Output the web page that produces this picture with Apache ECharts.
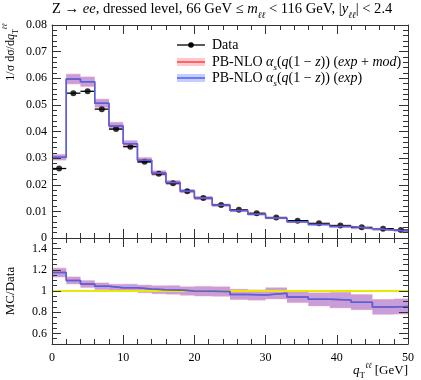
<!DOCTYPE html>
<html lang="en">

<head>
    <meta charset="UTF-8">
    <title>qT ee</title>
    <script src="https://cdn.jsdelivr.net/npm/echarts@6/dist/echarts.min.js"></script>
    <style>
        body,
        html {
            padding: 0;
            margin: 0;
        }
    </style>
</head>

<body>
    <div style="width:421px;height:380px;" id='chart'></div>
    <script>
        // bin edges in qT [GeV]
        var edges = [0, 2, 4, 6, 8, 10, 12, 14, 16, 18, 20, 22.5, 25, 27.5, 30, 33, 36, 39, 42, 45, 48, 50];
        // measured 1/sigma dsigma/dqT
        var dataVals = [0.0261, 0.0544, 0.0551, 0.0484, 0.0409, 0.0343, 0.0286, 0.0241, 0.0206, 0.0176, 0.0150,
            0.0124, 0.0106, 0.0093, 0.0077, 0.0065, 0.0055, 0.0047, 0.0040, 0.0035, 0.0030];
        // PB-NLO prediction (exp and exp+mod are on top of each other)
        var mcExp = [0.0303, 0.0597, 0.0587, 0.0506, 0.0421, 0.0354, 0.0292, 0.0244, 0.0208, 0.0176, 0.0150,
            0.0123, 0.0103, 0.0089, 0.0075, 0.0061, 0.0051, 0.0043, 0.0036, 0.0030, 0.0026];
        var mcExpMod = [0.0303, 0.0597, 0.0587, 0.0506, 0.0421, 0.0354, 0.0292, 0.0244, 0.0208, 0.0176, 0.0150,
            0.0123, 0.0103, 0.0089, 0.0075, 0.0061, 0.0051, 0.0043, 0.0036, 0.0030, 0.0026];
        // MC/Data
        var ratioExp = [1.174, 1.10, 1.066, 1.045, 1.03, 1.03, 1.02, 1.012, 1.01, 1.0, 0.998, 0.995, 0.968, 0.962,
            0.978, 0.943, 0.921, 0.914, 0.895, 0.85, 0.854];
        var ratioExpMod = [1.174, 1.10, 1.066, 1.045, 1.03, 1.03, 1.02, 1.012, 1.01, 1.0, 0.998, 0.995, 0.968, 0.962,
            0.978, 0.943, 0.921, 0.914, 0.895, 0.85, 0.854];
        // relative half width of the uncertainty bands
        var errExp = [0.035, 0.03, 0.03, 0.03, 0.032, 0.033, 0.035, 0.037, 0.04, 0.04, 0.045, 0.045, 0.05, 0.05,
            0.054, 0.055, 0.067, 0.08, 0.08, 0.083, 0.084];
        var errExpMod = [0.04, 0.035, 0.035, 0.035, 0.037, 0.038, 0.04, 0.042, 0.045, 0.045, 0.05, 0.05, 0.055, 0.055,
            0.059, 0.06, 0.072, 0.085, 0.085, 0.088, 0.089];
        var xTicks = [0, 10, 20, 30, 40, 50];

        var FONT = 'Liberation Serif';
        var blue = '#4466ee';
        var red = '#ff4040';

        function steps(vals) {
            var pts = [];
            for (var i = 0; i < vals.length; i++) {
                pts.push([edges[i], vals[i]]);
                pts.push([edges[i + 1], vals[i]]);
            }
            return pts;
        }

        function bandData(vals, rel) {
            return vals.map(function (v, i) {
                return [edges[i], edges[i + 1], v * (1 - rel[i]), v * (1 + rel[i])];
            });
        }

        function bandItem(fill) {
            return function (params, api) {
                var p0 = api.coord([api.value(0), api.value(3)]);
                var p1 = api.coord([api.value(1), api.value(2)]);
                return {
                    type: 'rect',
                    shape: { x: p0[0], y: p0[1], width: p1[0] - p0[0], height: p1[1] - p0[1] },
                    style: { fill: fill }
                };
            };
        }

        var redFill = 'rgba(255,100,120,0.30)';
        var blueFill = 'rgba(120,80,220,0.40)';

        var tickStyle = { color: '#333', width: 1 };

        function xAx(grid, pos, labels) {
            return {
                type: 'value', gridIndex: grid, position: pos, min: 0, max: 50, interval: 10, z: 10,
                axisLine: { show: true, onZero: false, lineStyle: { color: '#333' } },
                axisTick: { show: true, inside: true, length: 9, lineStyle: tickStyle },
                minorTick: { show: true, splitNumber: 5, length: 5, lineStyle: tickStyle },
                splitLine: { show: false },
                axisLabel: {
                    show: labels, margin: 8, color: '#000', fontFamily: FONT, fontSize: 12,
                    formatter: function (v) { return xTicks.indexOf(v) >= 0 ? String(v) : ''; }
                }
            };
        }

        function yAx(grid, pos, labels, extra) {
            var a = {
                type: 'value', gridIndex: grid, position: pos, z: 10,
                axisLine: { show: true, onZero: false, lineStyle: { color: '#333' } },
                axisTick: { show: true, inside: true, length: 9, lineStyle: tickStyle },
                minorTick: { show: true, length: 5, lineStyle: tickStyle },
                splitLine: { show: false },
                axisLabel: { show: labels, margin: 5, color: '#000', fontFamily: FONT, fontSize: 12 }
            };
            for (var k in extra) a[k] = extra[k];
            a.minorTick.splitNumber = extra.minorSplit;
            return a;
        }

        var mainY = { min: 0, max: 0.08, interval: 0.01, minorSplit: 5 };
        var ratioY = { min: 0.5, max: 1.5, splitNumber: 5, minorSplit: 4 };

        var chart = echarts.init(document.getElementById('chart'));

        // ℓ is not in Liberation Serif, take it from DejaVu Serif
        function makeRich(size) {
            var s = Math.round(size * 0.66);
            return {
                n: { fontFamily: FONT, fontSize: size, color: '#000' },
                i: { fontFamily: FONT, fontSize: size, fontStyle: 'italic', color: '#000' },
                sub: { fontFamily: FONT, fontSize: s, fontStyle: 'italic', color: '#000', verticalAlign: 'bottom', lineHeight: size + 6 },
                subl: { fontFamily: 'DejaVu Serif', fontSize: s - 1, fontStyle: 'italic', color: '#000', verticalAlign: 'bottom', lineHeight: size + 6 },
                subr: { fontFamily: FONT, fontSize: s, color: '#000', verticalAlign: 'bottom', lineHeight: size + 6 },
                sup: { fontFamily: 'DejaVu Serif', fontSize: s - 1, fontStyle: 'italic', color: '#000', verticalAlign: 'top', lineHeight: size + 6 }
            };
        }
        var rich = makeRich(14);
        var richTitle = makeRich(14.6);
        var richAxis = makeRich(13);
        var richYName = makeRich(12);

        var ratioMain = [];
        for (var i = 0; i < dataVals.length; i++) ratioMain.push(1);

        chart.setOption({
            animation: false,
            backgroundColor: '#fff',
            grid: [
                { left: 52, right: 13, top: 25, height: 213 },
                { left: 52, right: 13, top: 238, height: 106 }
            ],
            xAxis: [xAx(0, 'bottom', false), xAx(0, 'top', false), xAx(1, 'bottom', true), xAx(1, 'top', false)],
            yAxis: [
                yAx(0, 'left', true, mainY),
                yAx(0, 'right', false, mainY),
                yAx(1, 'left', true, ratioY),
                yAx(1, 'right', false, ratioY)
            ],
            graphic: [
                {
                    type: 'text', left: 52, top: 2,
                    style: {
                        text: '{n|Z → }{i|ee}{n|, dressed level, 66 GeV ≤ }{i|m}{subl|ℓℓ}{n| < 116 GeV, |}{i|y}{subl|ℓℓ}{n|| < 2.4}',
                        rich: richTitle
                    }
                },
                {
                    type: 'text', x: 11, y: 52, rotation: Math.PI / 2,
                    style: {
                        text: '{n|1/σ dσ/d}{i|q}{subr|T}{sup|ℓℓ}', rich: richYName, align: 'center', verticalAlign: 'middle'
                    }
                },
                {
                    type: 'text', x: 11, y: 291, rotation: Math.PI / 2,
                    style: { text: '{n|MC/Data}', rich: richAxis, align: 'center', verticalAlign: 'middle' }
                },
                {
                    type: 'text', x: 408, y: 371,
                    style: { text: '{i|q}{subr|T}{sup|ℓℓ}{n| [GeV]}', rich: richAxis, align: 'right', verticalAlign: 'middle' }
                },
                // legend
                { type: 'line', shape: { x1: 177, y1: 45, x2: 205, y2: 45 }, style: { stroke: '#000', lineWidth: 1.3 } },
                { type: 'circle', shape: { cx: 191, cy: 45, r: 2.8 }, style: { fill: '#000' } },
                { type: 'text', x: 212, y: 45, style: { text: '{n|Data}', rich: rich, verticalAlign: 'middle' } },
                { type: 'rect', shape: { x: 177, y: 58, width: 28, height: 8 }, style: { fill: 'rgba(255,100,120,0.35)' } },
                { type: 'line', shape: { x1: 177, y1: 62, x2: 205, y2: 62 }, style: { stroke: red, lineWidth: 1.5 } },
                {
                    type: 'text', x: 212, y: 62,
                    style: {
                        text: '{n|PB-NLO }{i|α}{sub|s}{n|(}{i|q}{n|(1 − }{i|z}{n|)) (}{i|exp}{n| + }{i|mod}{n|)}',
                        rich: rich, verticalAlign: 'middle'
                    }
                },
                { type: 'rect', shape: { x: 177, y: 74, width: 28, height: 8 }, style: { fill: 'rgba(90,110,255,0.35)' } },
                { type: 'line', shape: { x1: 177, y1: 78, x2: 205, y2: 78 }, style: { stroke: blue, lineWidth: 1.5 } },
                {
                    type: 'text', x: 212, y: 78,
                    style: {
                        text: '{n|PB-NLO }{i|α}{sub|s}{n|(}{i|q}{n|(1 − }{i|z}{n|)) (}{i|exp}{n|)}',
                        rich: rich, verticalAlign: 'middle'
                    }
                }
            ],
            series: [
                // main panel
                {
                    type: 'custom', xAxisIndex: 0, yAxisIndex: 0, renderItem: bandItem(redFill),
                    encode: { x: [0, 1], y: [2, 3] }, data: bandData(mcExpMod, errExpMod), silent: true
                },
                {
                    type: 'custom', xAxisIndex: 0, yAxisIndex: 0, renderItem: bandItem(blueFill),
                    encode: { x: [0, 1], y: [2, 3] }, data: bandData(mcExp, errExp), silent: true
                },
                {
                    type: 'line', xAxisIndex: 0, yAxisIndex: 0, data: steps(mcExpMod), showSymbol: false,
                    lineStyle: { color: red, width: 1.5 }, silent: true
                },
                {
                    type: 'line', xAxisIndex: 0, yAxisIndex: 0, data: steps(mcExp), showSymbol: false,
                    lineStyle: { color: blue, width: 1.5 }, silent: true
                },
                {
                    type: 'custom', xAxisIndex: 0, yAxisIndex: 0, silent: true,
                    encode: { x: [0, 1], y: 2 },
                    data: dataVals.map(function (v, i) { return [edges[i], edges[i + 1], v]; }),
                    renderItem: function (params, api) {
                        var a = api.coord([api.value(0), api.value(2)]);
                        var b = api.coord([api.value(1), api.value(2)]);
                        return {
                            type: 'line', shape: { x1: a[0], y1: a[1], x2: b[0], y2: b[1] },
                            style: { stroke: '#000', lineWidth: 1.3 }
                        };
                    }
                },
                {
                    type: 'scatter', xAxisIndex: 0, yAxisIndex: 0, symbolSize: 6, silent: true,
                    itemStyle: { color: '#000' },
                    data: dataVals.map(function (v, i) { return [(edges[i] + edges[i + 1]) / 2, v]; })
                },
                // ratio panel
                {
                    type: 'line', xAxisIndex: 2, yAxisIndex: 2, data: steps(ratioMain), showSymbol: false,
                    lineStyle: { color: '#e8e800', width: 2 }, silent: true
                },
                {
                    type: 'custom', xAxisIndex: 2, yAxisIndex: 2, renderItem: bandItem(redFill),
                    encode: { x: [0, 1], y: [2, 3] }, data: bandData(ratioExpMod, errExpMod), silent: true
                },
                {
                    type: 'custom', xAxisIndex: 2, yAxisIndex: 2, renderItem: bandItem(blueFill),
                    encode: { x: [0, 1], y: [2, 3] }, data: bandData(ratioExp, errExp), silent: true
                },
                {
                    type: 'line', xAxisIndex: 2, yAxisIndex: 2, data: steps(ratioExpMod), showSymbol: false,
                    lineStyle: { color: red, width: 1.5 }, silent: true
                },
                {
                    type: 'line', xAxisIndex: 2, yAxisIndex: 2, data: steps(ratioExp), showSymbol: false,
                    lineStyle: { color: blue, width: 1.5 }, silent: true
                }
            ]
        });
    </script>
</body>

</html>
